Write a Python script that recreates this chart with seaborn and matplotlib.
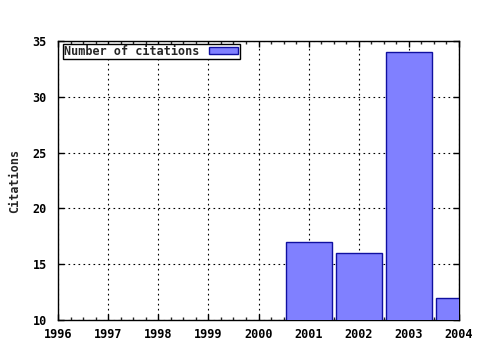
import matplotlib
matplotlib.use("Agg")
import matplotlib.pyplot as plt
import seaborn as sns
import pandas as pd
from matplotlib.ticker import MultipleLocator

years = [2001, 2002, 2003, 2004]
citations = [17, 16, 34, 12]
series_label = "Number of citations"
y_label = "Citations"
x_ticks = [1996, 1997, 1998, 1999, 2000, 2001, 2002, 2003, 2004]
y_ticks = [10, 15, 20, 25, 30, 35]

sns.set_style("white")
plt.rcParams['font.family'] = ['DejaVu Sans Mono']
plt.rcParams['font.weight'] = 'bold'

df = pd.DataFrame({"year": years, "citations": citations})

fig = plt.figure(figsize=(4.8, 3.5), dpi=100)
ax = fig.add_axes([58/480, 1-320/350, (459-58)/480, (320-41)/350])

sns.barplot(data=df, x="year", y="citations", native_scale=True, width=0.92,
            color="#8080ff", saturation=1, edgecolor="#1010a0", linewidth=1.0,
            label=series_label, ax=ax, zorder=3)

ax.set_xlim(1996, 2004)
ax.set_ylim(10, 35)
ax.set_xticks(x_ticks)
ax.set_xticklabels([str(t) for t in x_ticks])
ax.set_yticks(y_ticks)
ax.xaxis.set_minor_locator(MultipleLocator(0.25))
ax.tick_params(axis='both', which='major', direction='in', length=4, width=1,
               top=True, right=True, bottom=True, left=True, labelsize=8.5,
               colors='black')
ax.tick_params(axis='x', which='major', pad=6)
ax.tick_params(axis='y', which='major', pad=8)
ax.tick_params(axis='x', which='minor', direction='in', length=2.5, width=1,
               top=True, bottom=True)
for lab in ax.get_xticklabels() + ax.get_yticklabels():
    lab.set_fontweight('bold')

ax.grid(True, which='major', color='black', linestyle=(0, (1.5, 3)), linewidth=0.8, zorder=0)
ax.set_axisbelow(True)
for s in ax.spines.values():
    s.set_visible(True)
    s.set_color('black')
    s.set_linewidth(1.0)

ax.set_xlabel("")
ax.set_ylabel(y_label, fontsize=8.5, fontweight='bold', labelpad=8)

leg = ax.legend(loc='upper left', bbox_to_anchor=(0.012, 0.99), markerfirst=False,
                fancybox=False, framealpha=1, edgecolor='black', fontsize=8.5,
                handlelength=2.5, handleheight=0.5, borderpad=0.1,
                handletextpad=0.8, borderaxespad=0)
leg.get_frame().set_linewidth(1.0)
for t in leg.get_texts():
    t.set_fontweight('bold')

fig.savefig("out.png", dpi=100)
